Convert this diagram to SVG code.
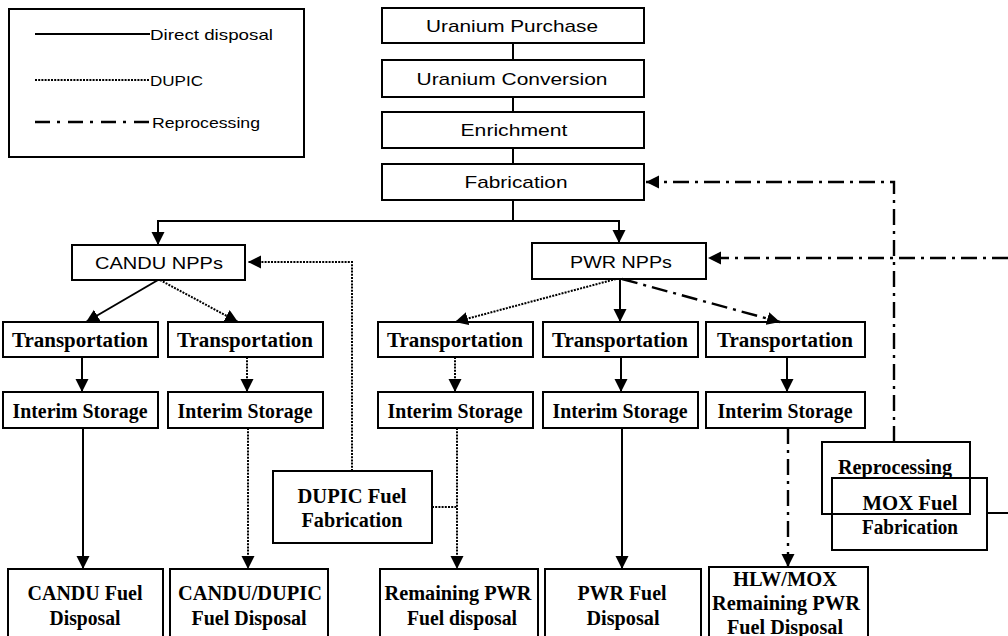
<svg xmlns="http://www.w3.org/2000/svg" width="1008" height="636" viewBox="0 0 1008 636">
<style>
.box{fill:none;stroke:#000;stroke-width:2}
.sans{font-family:"Liberation Sans",Arial,sans-serif;font-size:17px;fill:#000}
.serif{font-family:"Liberation Serif","Times New Roman",serif;font-size:20px;font-weight:bold;fill:#000}
.leg{font-family:"Liberation Sans",Arial,sans-serif;font-size:15px;fill:#000}
.c{stroke:#000;stroke-width:2;fill:none}
.dot{stroke-dasharray:2 1.2}
.dd{stroke-dasharray:16 6 3 6;stroke-width:2.4}
</style>
<defs>
<marker id="ah" markerUnits="userSpaceOnUse" markerWidth="14" markerHeight="14" refX="13" refY="6.5" orient="auto">
<path d="M0,0 L13,6.5 L0,13 z" fill="#000"/>
</marker>
</defs>
<rect width="1008" height="636" fill="#fff"/>

<g id="legend">
<rect class="box" x="9" y="9" width="295" height="148"/>
<line class="c" x1="35" y1="34" x2="150" y2="34"/>
<text class="leg" x="150" y="34" dominant-baseline="central" textLength="123" lengthAdjust="spacingAndGlyphs">Direct disposal</text>
<line class="c dot" x1="35" y1="80" x2="150" y2="80"/>
<text class="leg" x="150" y="80" dominant-baseline="central" textLength="53" lengthAdjust="spacingAndGlyphs">DUPIC</text>
<line class="c dd" x1="35" y1="122" x2="152" y2="122" style="stroke-dasharray:15 7 3 8"/>
<text class="leg" x="152" y="122" dominant-baseline="central" textLength="108" lengthAdjust="spacingAndGlyphs">Reprocessing</text>
</g>

<g id="uranium-purchase">
<rect class="box" x="382" y="8" width="262" height="35"/>
<text class="sans" x="512" y="26" text-anchor="middle" dominant-baseline="central" textLength="172" lengthAdjust="spacingAndGlyphs">Uranium Purchase</text>
</g>
<g id="uranium-conversion">
<rect class="box" x="382" y="60" width="262" height="37"/>
<text class="sans" x="512" y="79" text-anchor="middle" dominant-baseline="central" textLength="191" lengthAdjust="spacingAndGlyphs">Uranium Conversion</text>
</g>
<g id="enrichment">
<rect class="box" x="382" y="112" width="262" height="36"/>
<text class="sans" x="514" y="130" text-anchor="middle" dominant-baseline="central" textLength="107" lengthAdjust="spacingAndGlyphs">Enrichment</text>
</g>
<g id="fabrication">
<rect class="box" x="382" y="164" width="262" height="36"/>
<text class="sans" x="516" y="182" text-anchor="middle" dominant-baseline="central" textLength="103" lengthAdjust="spacingAndGlyphs">Fabrication</text>
</g>

<g id="candu-npps">
<rect class="box" x="72" y="245" width="173" height="35"/>
<text class="sans" x="159" y="263" text-anchor="middle" dominant-baseline="central" textLength="128" lengthAdjust="spacingAndGlyphs">CANDU NPPs</text>
</g>
<g id="pwr-npps">
<rect class="box" x="532" y="243" width="174" height="36"/>
<text class="sans" x="621" y="262" text-anchor="middle" dominant-baseline="central" textLength="102" lengthAdjust="spacingAndGlyphs">PWR NPPs</text>
</g>

<g id="transport-1">
<rect class="box" x="3" y="322" width="155" height="35"/>
<text class="serif" x="80" y="340" text-anchor="middle" dominant-baseline="central" textLength="136" lengthAdjust="spacingAndGlyphs">Transportation</text>
</g>
<g id="transport-2">
<rect class="box" x="168" y="322" width="155" height="35"/>
<text class="serif" x="245" y="340" text-anchor="middle" dominant-baseline="central" textLength="136" lengthAdjust="spacingAndGlyphs">Transportation</text>
</g>
<g id="transport-3">
<rect class="box" x="378" y="322" width="155" height="35"/>
<text class="serif" x="455" y="340" text-anchor="middle" dominant-baseline="central" textLength="136" lengthAdjust="spacingAndGlyphs">Transportation</text>
</g>
<g id="transport-4">
<rect class="box" x="543" y="322" width="155" height="35"/>
<text class="serif" x="620" y="340" text-anchor="middle" dominant-baseline="central" textLength="136" lengthAdjust="spacingAndGlyphs">Transportation</text>
</g>
<g id="transport-5">
<rect class="box" x="706" y="322" width="159" height="35"/>
<text class="serif" x="785" y="340" text-anchor="middle" dominant-baseline="central" textLength="136" lengthAdjust="spacingAndGlyphs">Transportation</text>
</g>

<g id="storage-1">
<rect class="box" x="3" y="392" width="155" height="36"/>
<text class="serif" x="80" y="411" text-anchor="middle" dominant-baseline="central" textLength="135" lengthAdjust="spacingAndGlyphs">Interim Storage</text>
</g>
<g id="storage-2">
<rect class="box" x="168" y="392" width="155" height="36"/>
<text class="serif" x="245" y="411" text-anchor="middle" dominant-baseline="central" textLength="135" lengthAdjust="spacingAndGlyphs">Interim Storage</text>
</g>
<g id="storage-3">
<rect class="box" x="378" y="392" width="155" height="36"/>
<text class="serif" x="455" y="411" text-anchor="middle" dominant-baseline="central" textLength="135" lengthAdjust="spacingAndGlyphs">Interim Storage</text>
</g>
<g id="storage-4">
<rect class="box" x="543" y="392" width="155" height="36"/>
<text class="serif" x="620" y="411" text-anchor="middle" dominant-baseline="central" textLength="135" lengthAdjust="spacingAndGlyphs">Interim Storage</text>
</g>
<g id="storage-5">
<rect class="box" x="706" y="392" width="159" height="36"/>
<text class="serif" x="785" y="411" text-anchor="middle" dominant-baseline="central" textLength="135" lengthAdjust="spacingAndGlyphs">Interim Storage</text>
</g>

<g id="dupic-fabrication">
<rect class="box" x="273" y="471" width="159" height="72"/>
<text class="serif" x="352" y="496" text-anchor="middle" dominant-baseline="central" textLength="109" lengthAdjust="spacingAndGlyphs">DUPIC Fuel</text>
<text class="serif" x="352" y="520" text-anchor="middle" dominant-baseline="central" textLength="101" lengthAdjust="spacingAndGlyphs">Fabrication</text>
</g>

<g id="reprocessing">
<rect class="box" x="822" y="442" width="148" height="72"/>
<text class="serif" x="895" y="467" text-anchor="middle" dominant-baseline="central" textLength="114" lengthAdjust="spacingAndGlyphs">Reprocessing</text>
</g>
<g id="mox-fabrication">
<rect class="box" x="832" y="478" width="155" height="72"/>
<text class="serif" x="910" y="503" text-anchor="middle" dominant-baseline="central" textLength="95" lengthAdjust="spacingAndGlyphs">MOX Fuel</text>
<text class="serif" x="910" y="527" text-anchor="middle" dominant-baseline="central" textLength="96" lengthAdjust="spacingAndGlyphs">Fabrication</text>
</g>

<g id="candu-disposal">
<rect class="box" x="8" y="569" width="155" height="80"/>
<text class="serif" x="85" y="593" text-anchor="middle" dominant-baseline="central" textLength="115" lengthAdjust="spacingAndGlyphs">CANDU Fuel</text>
<text class="serif" x="85" y="618" text-anchor="middle" dominant-baseline="central" textLength="71" lengthAdjust="spacingAndGlyphs">Disposal</text>
</g>
<g id="candu-dupic-disposal">
<rect class="box" x="170" y="569" width="158" height="80"/>
<text class="serif" x="250" y="593" text-anchor="middle" dominant-baseline="central" textLength="144" lengthAdjust="spacingAndGlyphs">CANDU/DUPIC</text>
<text class="serif" x="249" y="618" text-anchor="middle" dominant-baseline="central" textLength="115" lengthAdjust="spacingAndGlyphs">Fuel Disposal</text>
</g>
<g id="remaining-pwr-disposal">
<rect class="box" x="380" y="569" width="158" height="80"/>
<text class="serif" x="458" y="593" text-anchor="middle" dominant-baseline="central" textLength="147" lengthAdjust="spacingAndGlyphs">Remaining PWR</text>
<text class="serif" x="462" y="618" text-anchor="middle" dominant-baseline="central" textLength="110" lengthAdjust="spacingAndGlyphs">Fuel disposal</text>
</g>
<g id="pwr-disposal">
<rect class="box" x="545" y="569" width="156" height="80"/>
<text class="serif" x="622" y="593" text-anchor="middle" dominant-baseline="central" textLength="89" lengthAdjust="spacingAndGlyphs">PWR Fuel</text>
<text class="serif" x="623" y="618" text-anchor="middle" dominant-baseline="central" textLength="73" lengthAdjust="spacingAndGlyphs">Disposal</text>
</g>
<g id="hlw-mox-disposal">
<rect class="box" x="709" y="567" width="159" height="80"/>
<text class="serif" x="785" y="579" text-anchor="middle" dominant-baseline="central" textLength="104" lengthAdjust="spacingAndGlyphs">HLW/MOX</text>
<text class="serif" x="786" y="603" text-anchor="middle" dominant-baseline="central" textLength="148" lengthAdjust="spacingAndGlyphs">Remaining PWR</text>
<text class="serif" x="785" y="627" text-anchor="middle" dominant-baseline="central" textLength="116" lengthAdjust="spacingAndGlyphs">Fuel Disposal</text>
</g>

<g id="connectors">
<line class="c" x1="513" y1="43" x2="513" y2="60"/>
<line class="c" x1="513" y1="97" x2="513" y2="112"/>
<line class="c" x1="513" y1="148" x2="513" y2="164"/>
<line class="c" x1="513" y1="200" x2="513" y2="221"/>
<polyline class="c" points="158,221 619,221 619,243" marker-end="url(#ah)"/>
<line class="c" x1="158" y1="220" x2="158" y2="245" marker-end="url(#ah)"/>
<line class="c" x1="158" y1="280" x2="86" y2="322" marker-end="url(#ah)"/>
<line class="c dot" x1="160" y1="280" x2="238" y2="322" marker-end="url(#ah)"/>
<line class="c" x1="82" y1="357" x2="82" y2="392" marker-end="url(#ah)"/>
<line class="c dot" x1="247" y1="357" x2="247" y2="392" marker-end="url(#ah)"/>
<line class="c" x1="83" y1="428" x2="83" y2="569" marker-end="url(#ah)"/>
<line class="c dot" x1="248" y1="428" x2="248" y2="569" marker-end="url(#ah)"/>
<line class="c dot" x1="616" y1="279" x2="455" y2="322" marker-end="url(#ah)"/>
<line class="c" x1="620" y1="279" x2="620" y2="322" marker-end="url(#ah)"/>
<line class="c dd" x1="622" y1="279" x2="780" y2="322" marker-end="url(#ah)"/>
<line class="c dot" x1="455" y1="357" x2="455" y2="392" marker-end="url(#ah)"/>
<line class="c" x1="621" y1="357" x2="621" y2="392" marker-end="url(#ah)"/>
<line class="c" x1="787" y1="357" x2="787" y2="392" marker-end="url(#ah)"/>
<line class="c dot" x1="457" y1="428" x2="457" y2="569" marker-end="url(#ah)"/>
<line class="c" x1="622" y1="428" x2="622" y2="569" marker-end="url(#ah)"/>
<line class="c dd" x1="788" y1="428" x2="788" y2="567" marker-end="url(#ah)"/>
<polyline class="c dot" points="352,471 352,262 248,262" marker-end="url(#ah)"/>
<line class="c dot" x1="432" y1="507" x2="457" y2="507"/>
<polyline class="c dd" points="894,442 894,182 646,182" marker-end="url(#ah)"/>
<line class="c dd" x1="1008" y1="258" x2="708" y2="258" marker-end="url(#ah)"/>
<line class="c" x1="987" y1="513" x2="1008" y2="513"/>
</g>
</svg>
